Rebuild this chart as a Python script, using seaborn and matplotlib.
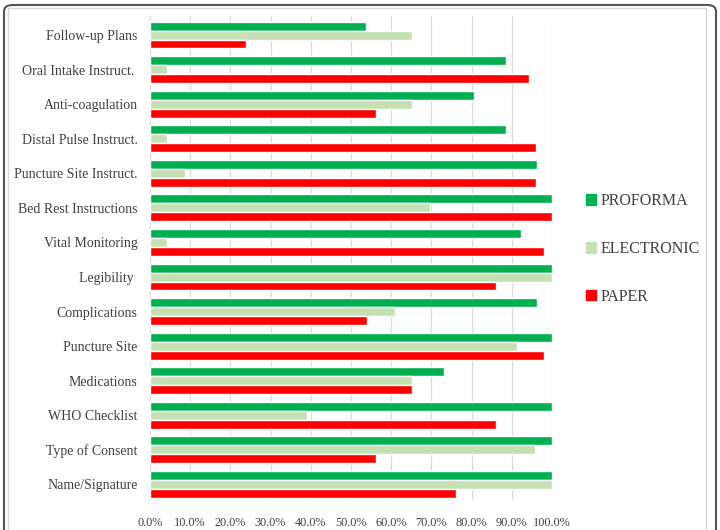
import numpy as np
import pandas as pd
import matplotlib.pyplot as plt
import seaborn as sns
from matplotlib.patches import Patch, FancyBboxPatch, Rectangle
from matplotlib.ticker import PercentFormatter

# categories top to bottom
categories = ['Follow-up Plans', 'Oral Intake Instruct. ', 'Anti-coagulation',
              'Distal Pulse Instruct.', 'Puncture Site Instruct.', 'Bed Rest Instructions',
              'Vital Monitoring', 'Legibility ', 'Complications', 'Puncture Site',
              'Medications', 'WHO Checklist', 'Type of Consent', 'Name/Signature']

proforma = [53.8, 88.6, 80.7, 88.6, 96.2, 100.0, 92.3, 100.0, 96.2, 100.0, 73.1, 100.0, 100.0, 100.0]
electronic = [65.2, 4.3, 65.2, 4.3, 8.7, 69.6, 4.3, 100.0, 60.9, 91.3, 65.2, 39.1, 95.7, 100.0]
paper = [23.9, 94.2, 56.3, 96.1, 96.1, 100.0, 98.1, 86.0, 53.9, 98.1, 65.2, 86.0, 56.1, 76.1]

series = ['PROFORMA', 'ELECTRONIC', 'PAPER']
colors = ['#00B050', '#C5E0B3', '#FF0000']

df = pd.DataFrame({
    'category': categories * 3,
    'group': np.repeat(series, len(categories)),
    'value': proforma + electronic + paper,
})

sns.set_style('white')
plt.rcParams['font.family'] = ['Liberation Serif', 'DejaVu Serif']

fig = plt.figure(figsize=(7.2, 5.3), dpi=100)
ax = fig.add_axes([150 / 720, 30 / 530, 402 / 720, 484 / 530])

sns.barplot(data=df, x='value', y='category', hue='group', hue_order=series,
            palette=colors, orient='h', width=0.78, saturation=1, ax=ax, legend=False)

ax.set_xlim(0, 100)
ax.set_xticks(np.arange(0, 101, 10))
ax.xaxis.set_major_formatter(PercentFormatter(decimals=1))
ax.grid(axis='x', color='#D9D9D9', linewidth=0.8)
ax.set_axisbelow(True)
for s in ax.spines.values():
    s.set_visible(False)
ax.set_xlabel('')
ax.set_ylabel('')
ax.tick_params(axis='x', labelsize=8.8, colors='#404040', length=0, pad=12)
ax.tick_params(axis='y', labelsize=10, colors='#404040', length=0, pad=9)
ax.set_ylim(len(categories) - 0.55, -0.55)

handles = [Patch(color=c, label=s) for c, s in zip(colors, series)]
fig.legend(handles=handles, loc='center left', bbox_to_anchor=(572 / 720, 0.530),
           frameon=False, fontsize=11.5, handlelength=0.6, handleheight=0.6,
           handletextpad=0.3, labelspacing=2.0, labelcolor='#404040')

# chart area border and outer rounded frame
fig.patches.append(Rectangle((8 / 720, 0), 698 / 720, 522 / 530, transform=fig.transFigure,
                             fill=False, edgecolor='#D9D9D9', linewidth=1))
fig.patches.append(FancyBboxPatch((4 / 720, -10 / 530), 712 / 720, 535 / 530,
                                  boxstyle='round,pad=0,rounding_size=0.012',
                                  transform=fig.transFigure, fill=False,
                                  edgecolor='#555555', linewidth=1.5))

fig.savefig('out.png', dpi=100)
